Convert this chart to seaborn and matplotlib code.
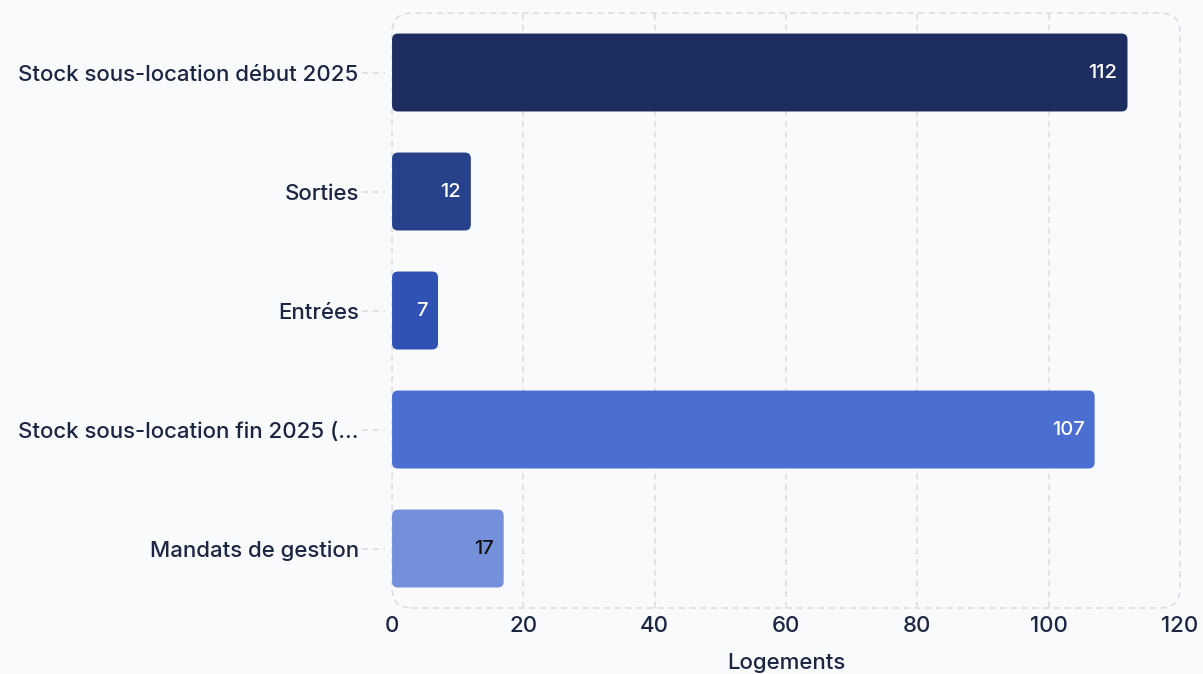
import matplotlib
matplotlib.use("Agg")
import matplotlib.pyplot as plt
from matplotlib.patches import FancyBboxPatch
import matplotlib.transforms as mtransforms
import seaborn as sns
import pandas as pd

categories = [
    "Stock sous-location début 2025",
    "Sorties",
    "Entrées",
    "Stock sous-location fin 2025 (...",
    "Mandats de gestion",
]
values = [112, 12, 7, 107, 17]
bar_colors = ["#1e2d60", "#27418b", "#2f52b4", "#4a6fd1", "#7590db"]
label_colors = ["white", "white", "white", "white", "#111111"]
x_ticks = [0, 20, 40, 60, 80, 100, 120]
x_label = "Logements"

BG = "#f9fafc"
TEXT = "#1c2541"
GRID = "#d9dbe0"

sns.set_theme(style="white")
plt.rcParams["font.family"] = ["Inter", "DejaVu Sans"]

df = pd.DataFrame({"cat": categories, "val": values})

fig = plt.figure(figsize=(12.03, 6.74), dpi=100, facecolor=BG)
ax = fig.add_axes([0.3259, 0.0979, 0.655, 0.8828], facecolor=BG)

sns.barplot(data=df, x="val", y="cat", hue="cat", palette=bar_colors,
            legend=False, width=0.655, ax=ax, zorder=3)

ax.set_xlim(0, 120)
ax.set_ylim(4.5, -0.5)

# replace square bars with rounded ones
px_per_x = 0.655 * 1203 / 120
px_per_y = 0.8828 * 674 / 5
radius_px = 6
rx = radius_px / px_per_x
ry = radius_px / px_per_y
bars = list(ax.patches)
for bar, color in zip(bars, bar_colors):
    x0, y0 = bar.get_x(), bar.get_y()
    w, h = bar.get_width(), bar.get_height()
    bar.remove()
    rounded = FancyBboxPatch((x0, y0), w, h,
                             boxstyle=f"round,pad=0,rounding_size={rx}",
                             mutation_aspect=ry / rx,
                             facecolor=color, edgecolor="none", zorder=3)
    ax.add_patch(rounded)

# value labels inside the bar ends
for i, (v, c) in enumerate(zip(values, label_colors)):
    ax.text(v - 10 / px_per_x, i, f"{v}", ha="right", va="center",
            color=c, fontsize=14.5, fontweight="medium", zorder=4)

# dashed vertical grid
for xt in x_ticks[1:-1]:
    ax.axvline(xt, color=GRID, lw=1.1, ls=(0, (4, 3)), zorder=1)

for s in ax.spines.values():
    s.set_visible(False)

# rounded dashed frame around the plotting area
frame = FancyBboxPatch((0, 0), 1, 1, transform=ax.transAxes,
                       boxstyle="round,pad=0,rounding_size=0.025",
                       mutation_aspect=1203 * 0.655 / (674 * 0.8828),
                       facecolor="none", edgecolor=GRID, lw=1.1,
                       ls=(0, (4, 3)), clip_on=False, zorder=2)
ax.add_patch(frame)

# dashed tick stubs next to category labels
trans = mtransforms.blended_transform_factory(ax.transAxes, ax.transData)
for i in range(len(categories)):
    ax.plot([-30 / (0.655 * 1203), -7 / (0.655 * 1203)], [i, i],
            transform=trans, color=GRID, lw=1.1, ls=(0, (4, 3)),
            clip_on=False, zorder=2)

ax.set_xticks(x_ticks)
ax.tick_params(axis="x", length=0, pad=6, labelsize=16, labelcolor=TEXT)
ax.tick_params(axis="y", length=0, pad=24, labelsize=16, labelcolor=TEXT)
for lbl in ax.get_xticklabels() + ax.get_yticklabels():
    lbl.set_fontweight("medium")
ax.set_ylabel("")
ax.set_xlabel(x_label, fontsize=16, fontweight="medium", color=TEXT,
              labelpad=12)

fig.savefig("out.png", dpi=100, facecolor=BG)
